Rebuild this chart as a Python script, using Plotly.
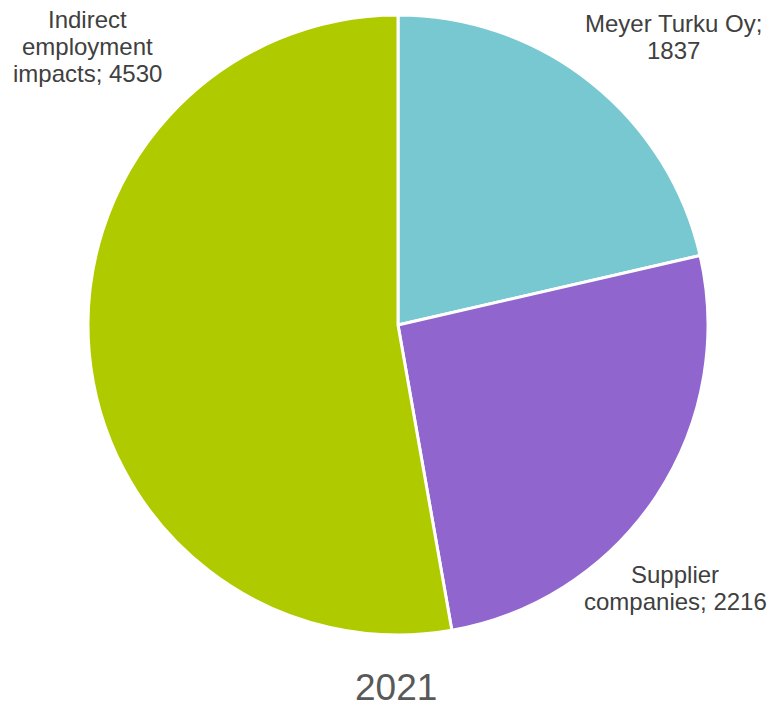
import plotly.graph_objects as go

labels = ["Meyer Turku Oy", "Supplier companies", "Indirect employment impacts"]
values = [1837, 2216, 4530]
colors = ["#78C8D2", "#9065CE", "#AFCB00"]
label_lines = [["Meyer Turku Oy;", "1837"], ["Supplier", "companies; 2216"],
               ["Indirect", "employment", "impacts; 4530"]]
title_text = "2021"

W, H = 769, 707
fig = go.Figure(go.Pie(
    labels=labels, values=values, sort=False, direction="clockwise", rotation=0,
    marker=dict(colors=colors, line=dict(color="white", width=3)),
    textinfo="none", hoverinfo="label+value",
    domain=dict(x=[88 / W, 708 / W], y=[(H - 635) / H, (H - 15) / H]),
    showlegend=False,
))

FS = 24
# (center x, first baseline) in pixels; line spacing 27px
label_pos = [(673, 32), (675, 583), (87, 28)]
for lines, (x, b0) in zip(label_lines, label_pos):
    for i, line in enumerate(lines):
        yc = b0 + 27 * i - 0.358 * FS
        fig.add_annotation(x=x / W, y=1 - yc / H, xref="paper", yref="paper", text=line,
                           showarrow=False, xanchor="center", yanchor="middle",
                           font=dict(family="Liberation Sans, Arial", size=FS, color="#404040"))

fig.add_annotation(x=396 / W, y=1 - 687 / H, xref="paper", yref="paper", text=title_text,
                   showarrow=False, xanchor="center", yanchor="middle", height=36, valign="middle",
                   font=dict(family="Liberation Sans, Arial", size=37, color="#595959"))

fig.update_layout(width=W, height=H, margin=dict(l=0, r=0, t=0, b=0),
                  paper_bgcolor="white", plot_bgcolor="white")
fig.write_html("out.html")
